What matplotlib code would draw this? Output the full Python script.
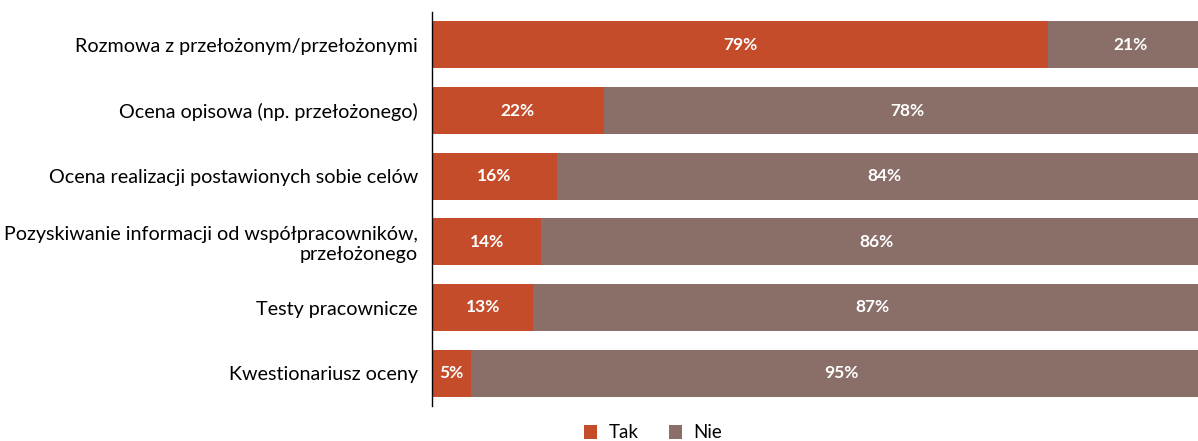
import numpy as np
import matplotlib.pyplot as plt

plt.rcParams['font.family'] = ['Lato', 'DejaVu Sans']

categories = [
    'Rozmowa z przełożonym/przełożonymi',
    'Ocena opisowa (np. przełożonego)',
    'Ocena realizacji postawionych sobie celów',
    'Pozyskiwanie informacji od współpracowników,\nprzełożonego',
    'Testy pracownicze',
    'Kwestionariusz oceny',
]
tak = [79, 22, 16, 14, 13, 5]
nie = [21, 78, 84, 86, 87, 95]

c_tak = '#C44C2B'
c_nie = '#8A6F69'

fig = plt.figure(figsize=(11.98, 4.41), dpi=100)
ax = fig.add_axes([432 / 1198, 1 - 406 / 441, 780 / 1198, 394 / 441])

y = np.arange(len(categories))
ax.barh(y, tak, height=0.72, color=c_tak, label='Tak')
ax.barh(y, nie, left=tak, height=0.72, color=c_nie, label='Nie')

for i in range(len(categories)):
    ax.text(tak[i] / 2, y[i], f'{tak[i]}%', ha='center', va='center',
            color='white', fontsize=12.5, fontweight='bold')
    ax.text(tak[i] + nie[i] / 2, y[i], f'{nie[i]}%', ha='center', va='center',
            color='white', fontsize=12.5, fontweight='bold')

ax.set_xlim(0, 100)
ax.set_ylim(len(categories) - 0.5, -0.5)
ax.set_yticks(y)
ax.set_yticklabels(categories, fontsize=14.2, linespacing=1.2)
ax.tick_params(axis='y', length=0, pad=10)
ax.set_xticks([])
for s in ['top', 'right', 'bottom']:
    ax.spines[s].set_visible(False)
ax.spines['left'].set_linewidth(1.0)
ax.spines['left'].set_color('black')

fig.legend(loc='center', bbox_to_anchor=(653 / 1198, 1 - 433 / 441), ncol=2,
           frameon=False, fontsize=13.5, handlelength=0.7, handleheight=0.7,
           columnspacing=1.6, handletextpad=0.6)

fig.savefig('out.png', dpi=100)
